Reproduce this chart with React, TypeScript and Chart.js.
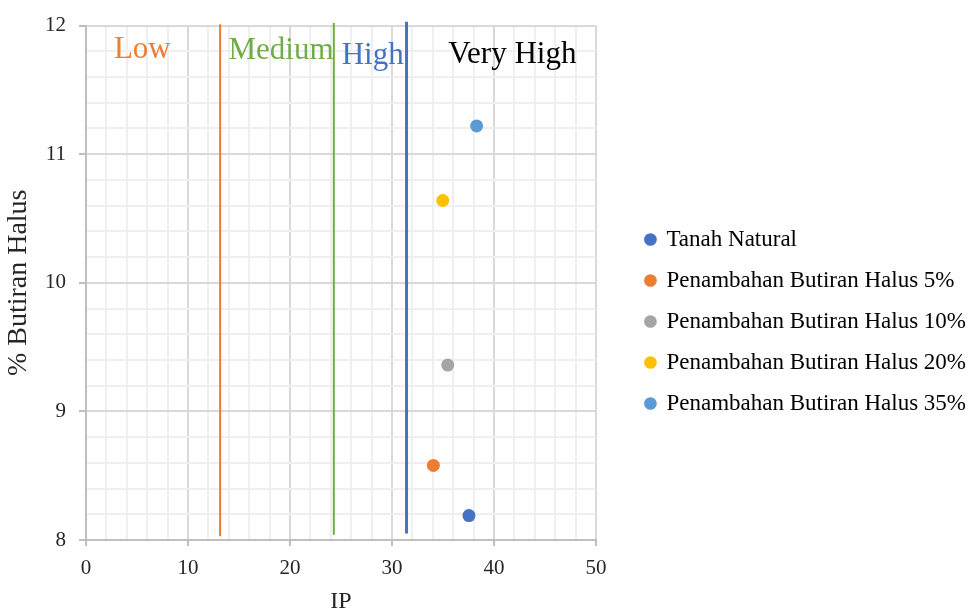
import React, { useEffect, useRef } from 'react';
import { Chart, registerables } from 'chart.js';

Chart.register(...registerables);

// ---- data ----
const seriesNames = [
  'Tanah Natural',
  'Penambahan Butiran Halus 5%',
  'Penambahan Butiran Halus 10%',
  'Penambahan Butiran Halus 20%',
  'Penambahan Butiran Halus 35%',
];
const seriesIP = [37.55, 34.06, 35.47, 34.98, 38.3];
const seriesFines = [8.19, 8.58, 9.36, 10.64, 11.22];
const seriesColors = ['#4472C4', '#ED7D31', '#A5A5A5', '#FFC000', '#5B9BD5'];

const boundaryIP = [13.15, 24.3, 31.43];
const boundaryBottom = [8.03, 8.04, 8.05];
const boundaryTop = [12.01, 12.02, 12.03];
const boundaryColors = ['#ED7D31', '#70AD47', '#4472C4'];
const boundaryWidths = [2, 2, 3];

const zoneLabels = ['Low', 'Medium', 'High', 'Very High'];
const zoneLabelIP = [5.52, 19.12, 28.11, 41.8];
const zoneLabelFines = [11.745, 11.74, 11.7, 11.71];
const zoneColors = ['#ED7D31', '#70AD47', '#4472C4', '#000000'];

const xMin = 0;
const xMax = 50;
const xMajorStep = 10;
const xMinorStep = 2;
const yMin = 8;
const yMax = 12;
const yMajorStep = 1;
const yMinorStep = 0.2;

const FONT = "'Liberation Serif', 'Times New Roman', serif";

const isMajor = (v: number, step: number) => {
  const r = v / step;
  return Math.abs(r - Math.round(r)) < 1e-6;
};

const zoneLabelPlugin = {
  id: 'zoneLabels',
  afterDatasetsDraw(chart: any) {
    const { ctx, scales } = chart;
    const x = scales.x;
    const y = scales.y;
    ctx.save();
    ctx.font = `31px ${FONT}`;
    ctx.textAlign = 'center';
    ctx.textBaseline = 'alphabetic';
    zoneLabels.forEach((t, i) => {
      ctx.fillStyle = zoneColors[i];
      ctx.fillText(t, x.getPixelForValue(zoneLabelIP[i]), y.getPixelForValue(zoneLabelFines[i]));
    });
    ctx.restore();
  },
};

export default function App() {
  const canvasRef = useRef<HTMLCanvasElement | null>(null);

  useEffect(() => {
    if (!canvasRef.current) return;
    Chart.defaults.font.family = FONT;

    const scatterSets = seriesNames.map((name, i) => ({
      label: name,
      data: [{ x: seriesIP[i], y: seriesFines[i] }],
      backgroundColor: seriesColors[i],
      borderColor: seriesColors[i],
      borderWidth: 0,
      pointRadius: 6.5,
      pointStyle: 'circle',
      showLine: false,
    }));

    const lineSets = boundaryIP.map((v, i) => ({
      label: 'boundary' + i,
      data: [
        { x: v, y: boundaryBottom[i] },
        { x: v, y: boundaryTop[i] },
      ],
      borderColor: boundaryColors[i],
      backgroundColor: boundaryColors[i],
      borderWidth: boundaryWidths[i],
      pointRadius: 0,
      showLine: true,
      clip: false,
    }));

    const chart = new Chart(canvasRef.current, {
      type: 'scatter',
      data: { datasets: [...scatterSets, ...lineSets] as any },
      plugins: [zoneLabelPlugin],
      options: {
        animation: false,
        responsive: false,
        layout: { padding: { top: 11, bottom: -2, left: 0, right: -8 } },
        plugins: {
          tooltip: { enabled: false },
          legend: {
            position: 'right',
            align: 'center',
            maxWidth: 400,
            title: {
              display: true,
              text: ' ',
              font: { size: 10, lineHeight: 1 },
              padding: { top: 4, bottom: 4 },
            },
            labels: {
              usePointStyle: true,
              pointStyle: 'circle',
              boxWidth: 9,
              boxHeight: 9,
              padding: 18,
              color: '#000000',
              font: { size: 23, family: FONT },
              filter: (item: any) => item.datasetIndex < seriesNames.length,
            },
          },
        },
        scales: {
          x: {
            type: 'linear',
            min: xMin,
            max: xMax,
            afterFit: (s: any) => {
              s.height = 74;
            },
            ticks: {
              stepSize: xMinorStep,
              autoSkip: false,
              maxRotation: 0,
              padding: 10,
              color: '#262626',
              font: { size: 21, family: FONT },
              callback: (v: any) => (isMajor(Number(v), xMajorStep) ? String(Math.round(Number(v))) : ''),
            },
            grid: {
              color: (c: any) => (c.tick && isMajor(c.tick.value, xMajorStep) ? '#d9d9d9' : '#efefef'),
              lineWidth: 2,
              tickLength: 6,
              tickWidth: 2,
              tickColor: (c: any) => (c.tick && isMajor(c.tick.value, xMajorStep) ? '#bfbfbf' : 'rgba(0,0,0,0)'),
            },
            border: { color: '#bfbfbf', width: 2 },
            title: {
              display: true,
              text: 'IP',
              color: '#262626',
              font: { size: 24, lineHeight: 1, family: FONT },
              padding: 0,
            },
          },
          y: {
            type: 'linear',
            min: yMin,
            max: yMax,
            afterFit: (s: any) => {
              s.width = 86;
            },
            ticks: {
              stepSize: yMinorStep,
              autoSkip: false,
              padding: 13,
              color: '#262626',
              font: { size: 21, family: FONT },
              callback: (v: any) => (isMajor(Number(v), yMajorStep) ? String(Math.round(Number(v))) : ''),
            },
            grid: {
              color: (c: any) => (c.tick && isMajor(c.tick.value, yMajorStep) ? '#d9d9d9' : '#efefef'),
              lineWidth: 2,
              tickLength: 7,
              tickWidth: 2,
              tickColor: (c: any) => (c.tick && isMajor(c.tick.value, yMajorStep) ? '#bfbfbf' : 'rgba(0,0,0,0)'),
            },
            border: { color: '#bfbfbf', width: 2 },
            title: {
              display: true,
              text: '% Butiran Halus',
              color: '#262626',
              font: { size: 28, lineHeight: 1, family: FONT },
              padding: { top: 5, bottom: 13 },
            },
          },
          gap: {
            type: 'linear',
            position: 'right',
            display: true,
            grid: { display: false, drawTicks: false },
            ticks: { display: false },
            border: { display: false },
            afterFit: (s: any) => {
              s.width = 32;
            },
          },
        },
      } as any,
    });

    return () => chart.destroy();
  }, []);

  return (
    <div style={{ position: 'absolute', left: 0, top: 0, width: 968, height: 612, background: '#ffffff' }}>
      <canvas ref={canvasRef} width={968} height={612} style={{ width: 968, height: 612, display: 'block' }} />
    </div>
  );
}
